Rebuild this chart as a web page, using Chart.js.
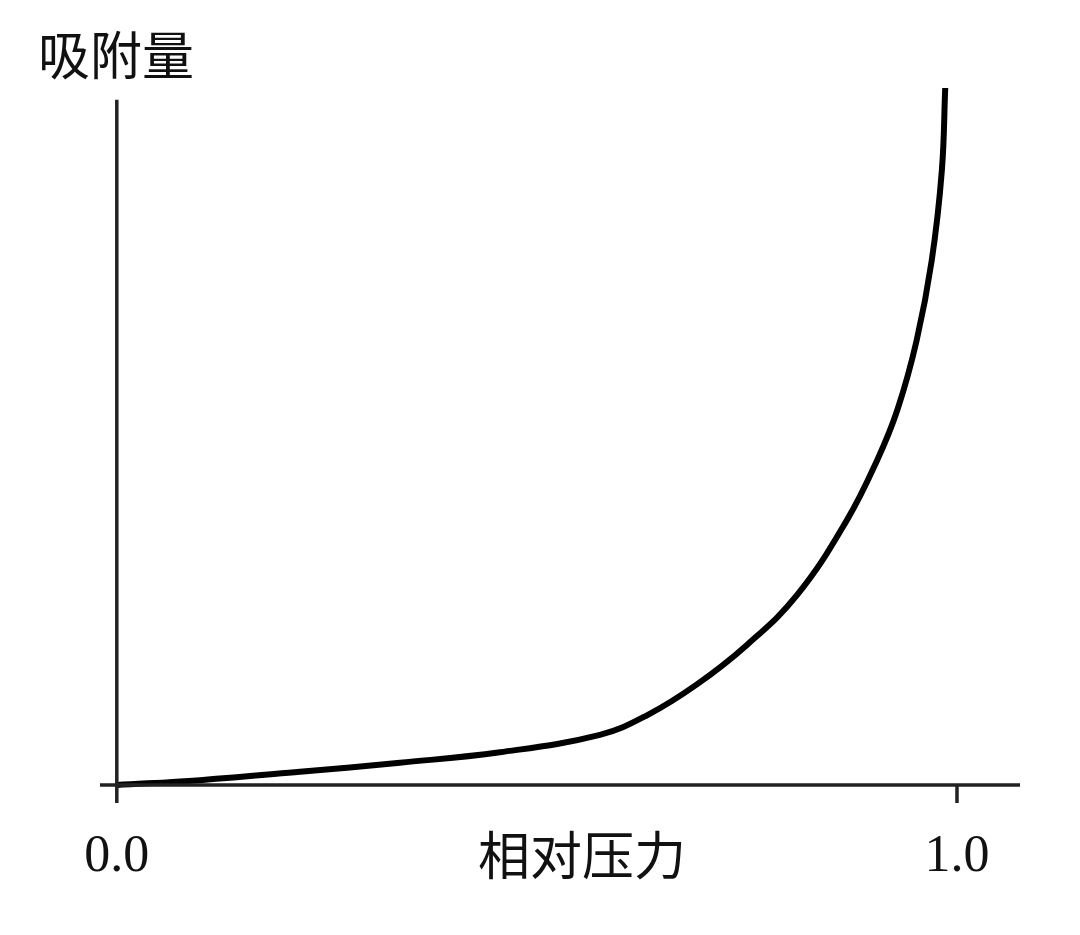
<!DOCTYPE html>
<html lang="zh">
<head>
    <meta charset="UTF-8">
    <title>吸附量</title>
    <script src="https://cdn.jsdelivr.net/npm/chart.js@4"></script>
    <style>
        html, body {margin: 0; padding: 0; background: #fff;}
        #wrap {width: 1080px; height: 935px;}
    </style>
</head>
<body>
    <div id="wrap"><canvas id="chart" width="1080" height="935"></canvas></div>
    <script>
        // relative pressure vs adsorbed amount
        const pressure = [0, 0.099, 0.218, 0.337, 0.456, 0.575, 0.631, 0.69, 0.75, 0.81, 0.869, 0.905, 0.929, 0.952, 0.97, 0.982, 0.986];
        const amount = [0, 0.7, 1.9, 3.2, 4.7, 7.2, 10.0, 14.4, 20.1, 27.3, 38.0, 46.6, 53.8, 63.8, 75.3, 88.2, 100];
        const xTicks = [0, 1];
        const xTickLabels = ['0.0', '1.0'];
        const xTitle = '相对压力';
        const yTitle = '吸附量';

        const axesPlugin = {
            id: 'axes',
            afterDraw(chart) {
                const ctx = chart.ctx, x = chart.scales.x, y = chart.scales.y, a = chart.chartArea;
                const x0 = x.getPixelForValue(0), y0 = y.getPixelForValue(0);
                ctx.save();
                ctx.strokeStyle = '#222';
                ctx.lineWidth = 3.5;
                ctx.beginPath();
                ctx.moveTo(x0, a.bottom); ctx.lineTo(x0, y.getPixelForValue(98.3));
                ctx.moveTo(a.left, y0); ctx.lineTo(a.right, y0);
                xTicks.forEach(t => {
                    const px = x.getPixelForValue(t);
                    ctx.moveTo(px, y0); ctx.lineTo(px, y0 + 18);
                });
                ctx.stroke();
                ctx.fillStyle = '#111';
                ctx.textAlign = 'center';
                ctx.textBaseline = 'middle';
                ctx.font = '52px "Liberation Serif", serif';
                xTicks.forEach((t, i) => ctx.fillText(xTickLabels[i], x.getPixelForValue(t), 857));
                ctx.font = '52px "Noto Sans CJK SC", sans-serif';
                ctx.fillText(xTitle, 582, 855);
                ctx.textAlign = 'left';
                ctx.fillText(yTitle, 38, 55);
                ctx.restore();
            }
        };

        new Chart(document.getElementById('chart'), {
            type: 'scatter',
            data: {
                datasets: [{
                    data: pressure.map((p, i) => ({x: p, y: amount[i]})),
                    showLine: true,
                    borderColor: '#000',
                    borderWidth: 6,
                    pointRadius: 0,
                    tension: 0.4
                }]
            },
            options: {
                responsive: false,
                animation: false,
                layout: {padding: {left: 100, right: 60, top: 88, bottom: 135}},
                plugins: {legend: {display: false}, tooltip: {enabled: false}},
                scales: {
                    x: {type: 'linear', min: -0.02, max: 1.075, display: false},
                    y: {min: -2.15, max: 100, display: false}
                }
            },
            plugins: [axesPlugin]
        });
    </script>
</body>
</html>
